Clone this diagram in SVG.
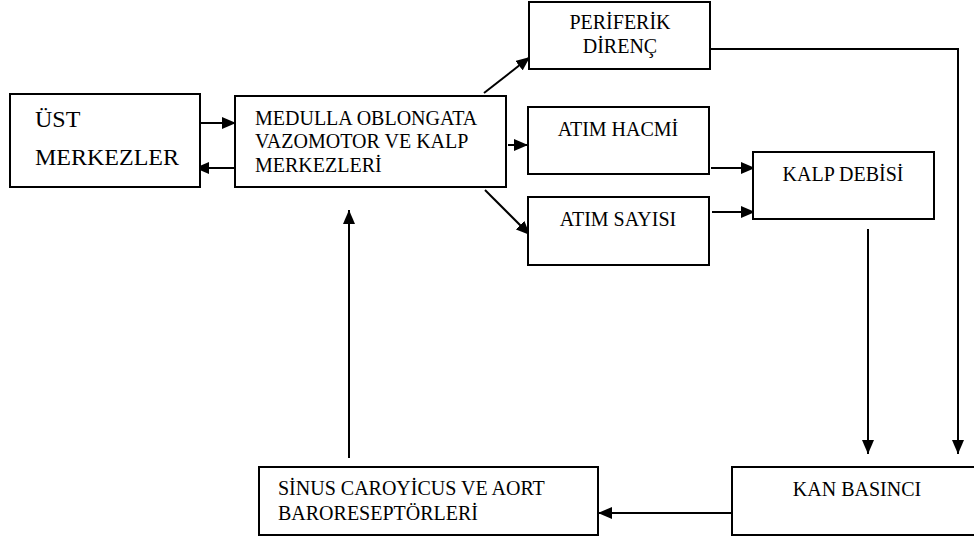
<svg xmlns="http://www.w3.org/2000/svg" width="974" height="540" viewBox="0 0 974 540">
<style>
.box{fill:#fff;stroke:#000;stroke-width:2}
.t{font-size:20px;fill:#000}
.big{font-size:24px}
.c{text-anchor:middle}
.ln{fill:none;stroke:#000;stroke-width:2}
</style>
<defs>
<marker id="ah" markerUnits="userSpaceOnUse" markerWidth="14" markerHeight="12" viewBox="0 0 14 12" refX="14" refY="6" orient="auto">
<path d="M0,0 L14,6 L0,12 z" fill="#000"/>
</marker>
</defs>
<rect width="974" height="540" fill="#fff"/>
<g id="connectors">
<line class="ln" x1="192" y1="123" x2="236" y2="123" marker-end="url(#ah)"/>
<line class="ln" x1="238" y1="168" x2="195" y2="168" marker-end="url(#ah)"/>
<line class="ln" x1="484" y1="93" x2="530" y2="57" marker-end="url(#ah)"/>
<line class="ln" x1="508" y1="145" x2="528" y2="145" marker-end="url(#ah)"/>
<line class="ln" x1="485" y1="190" x2="530" y2="235" marker-end="url(#ah)"/>
<line class="ln" x1="711" y1="168" x2="755" y2="168" marker-end="url(#ah)"/>
<line class="ln" x1="712" y1="212" x2="755" y2="212" marker-end="url(#ah)"/>
<line class="ln" x1="868" y1="229" x2="868" y2="454" marker-end="url(#ah)"/>
<polyline class="ln" points="710,49 958,49 958,454" marker-end="url(#ah)"/>
<line class="ln" x1="732" y1="513" x2="598" y2="513" marker-end="url(#ah)"/>
<line class="ln" x1="349" y1="458" x2="349" y2="210" marker-end="url(#ah)"/>
</g>
<g font-family="'Liberation Serif', 'Times New Roman', 'DejaVu Serif', serif">
<g id="ust">
<rect class="box" x="10" y="94" width="190" height="93"/>
<text class="t big" x="35" y="127">ÜST</text>
<text class="t big" x="35" y="165">MERKEZLER</text>
</g>
<g id="medulla">
<rect class="box" x="235" y="96" width="271" height="91"/>
<text class="t" x="255" y="125">MEDULLA OBLONGATA</text>
<text class="t" x="255" y="148">VAZOMOTOR VE KALP</text>
<text class="t" x="255" y="172">MERKEZLERİ</text>
</g>
<g id="periferik">
<rect class="box" x="529" y="2" width="181" height="67"/>
<text class="t c" x="620" y="29">PERİFERİK</text>
<text class="t c" x="620" y="53">DİRENÇ</text>
</g>
<g id="atim-hacmi">
<rect class="box" x="528" y="107" width="181" height="67"/>
<text class="t c" x="618" y="136">ATIM HACMİ</text>
</g>
<g id="atim-sayisi">
<rect class="box" x="528" y="197" width="181" height="68"/>
<text class="t c" x="618" y="226">ATIM SAYISI</text>
</g>
<g id="kalp-debisi">
<rect class="box" x="753" y="152" width="181" height="67"/>
<text class="t c" x="843" y="181">KALP DEBİSİ</text>
</g>
<g id="kan-basinci">
<rect class="box" x="732" y="467" width="250" height="68"/>
<text class="t c" x="857" y="496">KAN BASINCI</text>
</g>
<g id="sinus">
<rect class="box" x="259" y="467" width="339" height="68"/>
<text class="t" x="278" y="495">SİNUS CAROYİCUS VE AORT</text>
<text class="t" x="278" y="520">BARORESEPTÖRLERİ</text>
</g>
</g>
</svg>
